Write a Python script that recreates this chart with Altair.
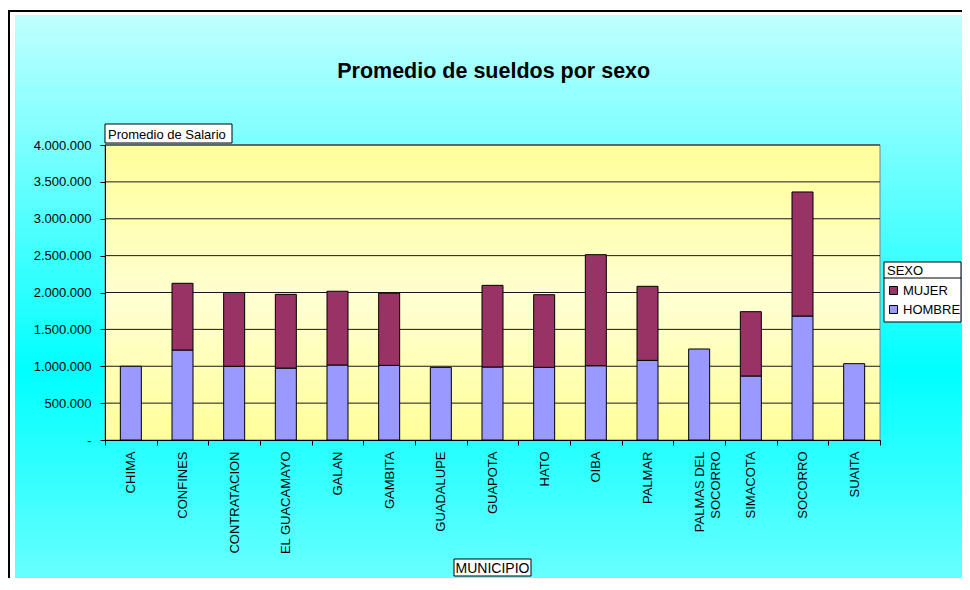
import altair as alt
import pandas as pd

# ---------------- data ----------------
municipios = ["CHIMA", "CONFINES", "CONTRATACION", "EL GUACAMAYO", "GALAN", "GAMBITA",
              "GUADALUPE", "GUAPOTA", "HATO", "OIBA", "PALMAR", "PALMAS DEL SOCORRO",
              "SIMACOTA", "SOCORRO", "SUAITA"]
hombre = [1000000, 1220000, 1000000, 975000, 1017000, 1012000, 985000, 990000,
          985000, 1007000, 1080000, 1234000, 868000, 1681000, 1035000]
mujer = [None, 905000, 1000000, 1000000, 1000000, 980000, None, 1107000,
         985000, 1506000, 1004000, None, 872000, 1682000, None]
sexos = ["MUJER", "HOMBRE"]
colores = ["#993366", "#9999FF"]
y_ticks = [0, 500000, 1000000, 1500000, 2000000, 2500000, 3000000, 3500000, 4000000]

rows = []
for m, h, f in zip(municipios, hombre, mujer):
    rows.append({"municipio": m, "sexo": "HOMBRE", "valor": h, "orden": 0})
    if f is not None:
        rows.append({"municipio": m, "sexo": "MUJER", "valor": f, "orden": 1})
df = pd.DataFrame(rows)
grid_df = pd.DataFrame({"valor": y_ticks[1:]})

W, H = 775, 295
FONT = "Liberation Sans"
one = pd.DataFrame({"t": ["x"]})

yscale = alt.Scale(domain=[0, 4000000], nice=False, zero=True)
y_axis = alt.Axis(
    values=y_ticks, grid=False, title=None, zindex=1,
    labelExpr="datum.value == 0 ? '-\u00a0\u00a0\u00a0\u00a0' : replace(format(datum.value, ',d'), /,/g, '.')",
    labelFont=FONT, labelFontSize=13, labelColor="black", labelPadding=9,
    tickSize=5, tickColor="black", domainColor="black", domainWidth=1,
)
x_axis = alt.Axis(
    title=None, zindex=1, labelAngle=-90, labelFont=FONT, labelFontSize=13,
    labelColor="black", labelPadding=6, labelOverlap=False, labelLineHeight=16,
    labelExpr="datum.label == 'PALMAS DEL SOCORRO' ? ['PALMAS DEL', 'SOCORRO'] : datum.label",
    tickBand="extent", tickSize=5, tickColor="black", domainColor="black",
)

cyan = alt.LinearGradient(
    gradient="linear", x1=0, x2=0, y1=0, y2=1,
    stops=[alt.GradientStop(color="#C0FFFF", offset=0),
           alt.GradientStop(color="#00FFFF", offset=0.49),
           alt.GradientStop(color="#BDFFFF", offset=1)])
yellow = alt.LinearGradient(
    gradient="linear", x1=0, x2=0, y1=0, y2=1,
    stops=[alt.GradientStop(color="#FFFF99", offset=0),
           alt.GradientStop(color="#FFFFD2", offset=0.53),
           alt.GradientStop(color="#FFFF99", offset=1)])

base_one = alt.Chart(one)

border = base_one.mark_rect(fill="white", stroke="black", strokeWidth=2).encode(
    x=alt.value(-96), x2=alt.value(900), y=alt.value(-134), y2=alt.value(600))
outer = base_one.mark_rect(fill=cyan).encode(
    x=alt.value(-90), x2=alt.value(900), y=alt.value(-130), y2=alt.value(600))
plotbg = base_one.mark_rect(fill=yellow, stroke="#808080", strokeWidth=1).encode(
    x=alt.value(0), x2=alt.value(W), y=alt.value(0), y2=alt.value(H))

grid = alt.Chart(grid_df).mark_rule(color="#1a1a1a", strokeWidth=1).encode(
    y=alt.Y("valor:Q", scale=yscale, axis=y_axis))

LX = 779
bars = alt.Chart(df).mark_bar(size=21, stroke="black", strokeWidth=1).encode(
    x=alt.X("municipio:N", sort=municipios,
            scale=alt.Scale(domain=municipios, paddingInner=0, paddingOuter=0),
            axis=x_axis),
    y=alt.Y("valor:Q", stack="zero", scale=yscale, axis=y_axis),
    color=alt.Color("sexo:N", scale=alt.Scale(domain=sexos, range=colores),
                    legend=alt.Legend(
                        title="SEXO", orient="none", legendX=LX, legendY=117,
                        padding=3, titleFont=FONT, titleFontSize=13, titleFontWeight="normal",
                        titleColor="black", titlePadding=6, labelFont=FONT, labelFontSize=13,
                        labelColor="black", labelOffset=3, symbolType="square", symbolSize=64,
                        symbolStrokeColor="black", symbolStrokeWidth=1, symbolOpacity=1,
                        rowPadding=5)),
    order=alt.Order("orden:Q", sort="ascending"),
)

legend_box = base_one.mark_rect(fill="white", stroke="black", strokeWidth=1).encode(
    x=alt.value(LX), x2=alt.value(LX + 77), y=alt.value(117), y2=alt.value(177))
legend_sep = base_one.mark_rule(color="black", strokeWidth=1).encode(
    x=alt.value(LX), x2=alt.value(LX + 77), y=alt.value(133))

ytitle_box = base_one.mark_rect(fill="white", stroke="black", strokeWidth=1).encode(
    x=alt.value(0), x2=alt.value(127), y=alt.value(-21), y2=alt.value(-2))
ytitle = alt.Chart(pd.DataFrame({"t": ["Promedio de Salario"]})).mark_text(
    font=FONT, fontSize=13, color="black", align="left", baseline="alphabetic").encode(
    text="t:N", x=alt.value(3), y=alt.value(-6))

xtitle_box = base_one.mark_rect(fill="white", stroke="black", strokeWidth=1).encode(
    x=alt.value(349), x2=alt.value(426), y=alt.value(414), y2=alt.value(431))
xtitle = alt.Chart(pd.DataFrame({"t": ["MUNICIPIO"]})).mark_text(
    font=FONT, fontSize=14, color="black", align="center", baseline="alphabetic").encode(
    text="t:N", x=alt.value(387.5), y=alt.value(427.5))

title = alt.Chart(pd.DataFrame({"t": ["Promedio de sueldos por sexo"]})).mark_text(
    font=FONT, fontSize=21.5, fontWeight="bold", color="black", align="center",
    baseline="alphabetic").encode(text="t:N", x=alt.value(388.7), y=alt.value(-67))

chart = alt.layer(
    border, outer, plotbg, legend_box, legend_sep, ytitle_box, ytitle,
    xtitle_box, xtitle, title, grid, bars
).properties(
    width=W, height=H,
    padding={"left": 97, "top": 137, "right": 82, "bottom": 138},
    autosize=alt.AutoSizeParams(type="none"),
).configure(background="white").configure_view(stroke=None)

chart.save("out.html", embed_options={"renderer": "svg", "actions": False})
